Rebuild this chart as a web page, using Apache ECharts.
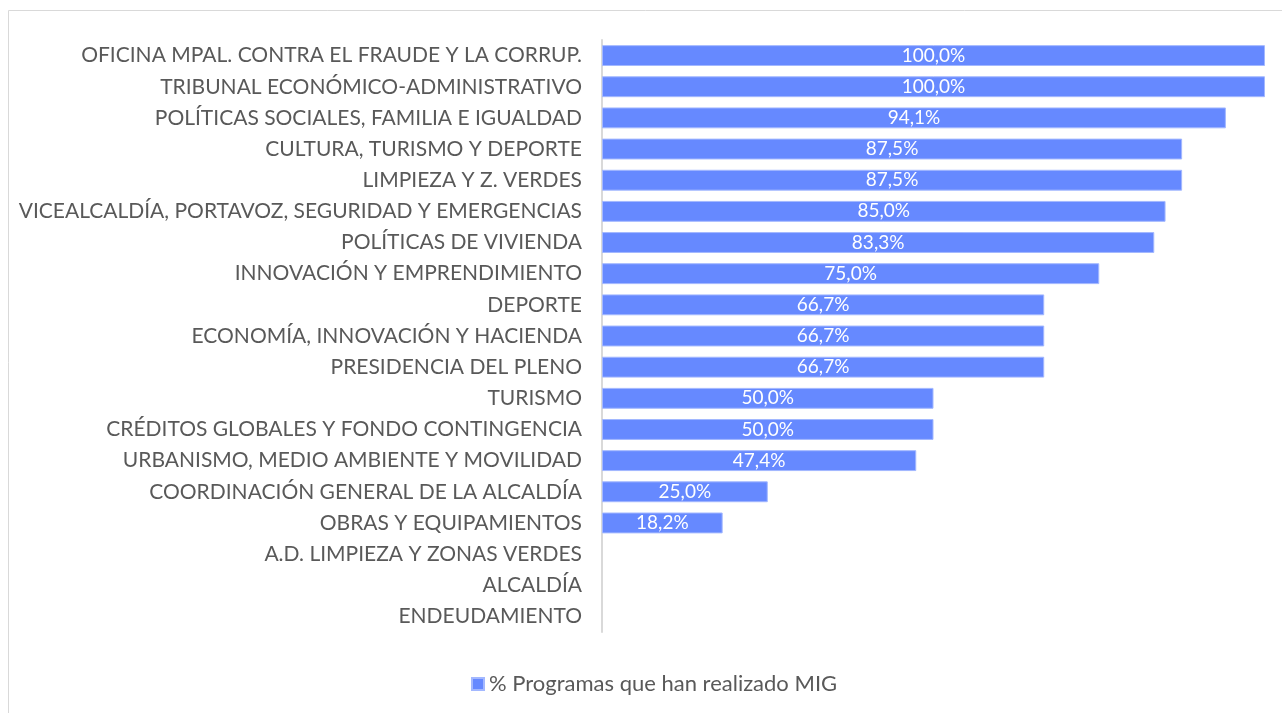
<!DOCTYPE html>
<html lang="es">
<head>
  <meta charset="UTF-8">
  <title>% Programas que han realizado MIG</title>
  <script src="https://cdn.jsdelivr.net/npm/echarts@6/dist/echarts.min.js"></script>
  <style>
    html, body { margin: 0; padding: 0; background: #fff; }
    #chart { width: 1282px; height: 713px; }
  </style>
</head>
<body>
<div id="chart"></div>
<script>
  // data (top to bottom)
  const areas = [
    'OFICINA MPAL. CONTRA EL FRAUDE Y LA CORRUP.',
    'TRIBUNAL ECONÓMICO-ADMINISTRATIVO',
    'POLÍTICAS SOCIALES, FAMILIA E IGUALDAD',
    'CULTURA, TURISMO Y DEPORTE',
    'LIMPIEZA Y Z. VERDES',
    'VICEALCALDÍA, PORTAVOZ, SEGURIDAD Y EMERGENCIAS',
    'POLÍTICAS DE VIVIENDA',
    'INNOVACIÓN Y EMPRENDIMIENTO',
    'DEPORTE',
    'ECONOMÍA, INNOVACIÓN Y HACIENDA',
    'PRESIDENCIA DEL PLENO',
    'TURISMO',
    'CRÉDITOS GLOBALES Y FONDO CONTINGENCIA',
    'URBANISMO, MEDIO AMBIENTE Y MOVILIDAD',
    'COORDINACIÓN GENERAL DE LA ALCALDÍA',
    'OBRAS Y EQUIPAMIENTOS',
    'A.D. LIMPIEZA Y ZONAS VERDES',
    'ALCALDÍA',
    'ENDEUDAMIENTO'
  ];
  const pctMIG = [100, 100, 94.1, 87.5, 87.5, 85.0, 83.3, 75.0, 66.7, 66.7, 66.7,
    50.0, 50.0, 47.4, 25.0, 18.2, 0, 0, 0];
  const seriesName = '% Programas que han realizado MIG';

  const font = 'Lato, "Open Sans", sans-serif';
  let chart = echarts.init(document.getElementById('chart'));
  chart.setOption({
    animation: false,
    graphic: [{
      type: 'rect',
      shape: { x: 8.5, y: 10.5, width: 1280, height: 720 },
      style: { fill: 'none', stroke: '#d9d9d9', lineWidth: 1 },
      silent: true
    }],
    grid: { left: 602, right: 17, top: 40, bottom: 81 },
    legend: {
      bottom: 13,
      left: 466,
      itemWidth: 12,
      itemHeight: 12,
      itemGap: 4,
      icon: 'rect',
      textStyle: { color: '#595959', fontSize: 22, fontFamily: font }
    },
    xAxis: {
      type: 'value',
      min: 0,
      max: 100,
      show: false
    },
    yAxis: {
      type: 'category',
      inverse: true,
      data: areas,
      axisLine: { lineStyle: { color: '#d9d9d9', width: 2 } },
      axisTick: { show: false },
      axisLabel: { color: '#595959', fontSize: 21, fontFamily: font, margin: 20 }
    },
    series: [{
      name: seriesName,
      type: 'bar',
      // empty categories get no visible sliver
      data: pctMIG.map(v => v > 0 ? v : { value: v, itemStyle: { borderWidth: 0 } }),
      barCategoryGap: '33%',
      itemStyle: { color: '#6689ff', borderColor: '#a3b8ff', borderWidth: 1 },
      label: {
        show: true,
        position: 'inside',
        color: '#fff',
        fontSize: 19,
        fontFamily: font,
        formatter: p => p.value > 0 ? p.value.toFixed(1).replace('.', ',') + '%' : ''
      }
    }]
  });
</script>
</body>
</html>
